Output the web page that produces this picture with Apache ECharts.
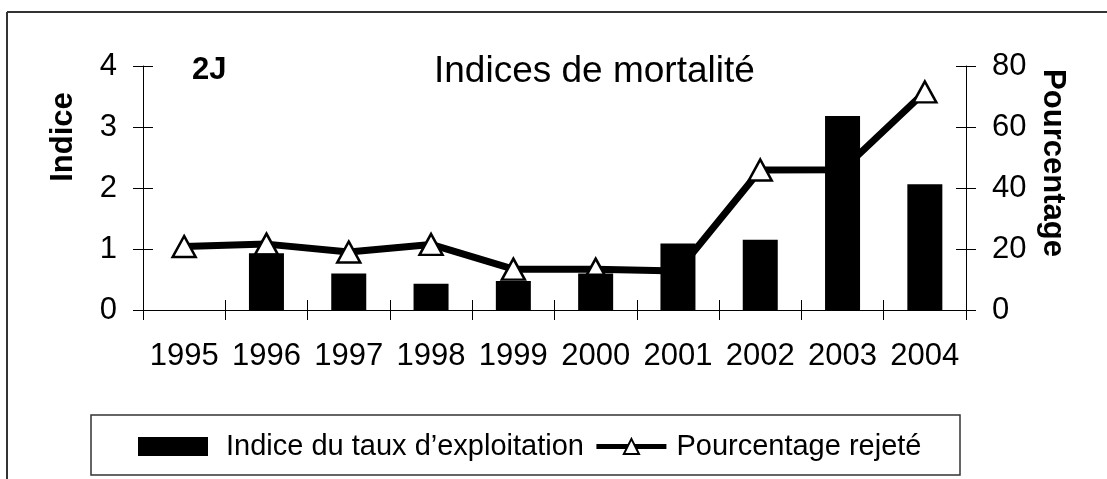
<!DOCTYPE html>
<html>
<head>
<meta charset="utf-8">
<script src="https://cdn.jsdelivr.net/npm/echarts@6/dist/echarts.min.js"></script>
<style>
  html, body { margin: 0; padding: 0; background: #fff; }
  #main { width: 1107px; height: 479px; }
</style>
</head>
<body>
<div id="main"></div>
<script>
// années
var annees = ['1995', '1996', '1997', '1998', '1999', '2000', '2001', '2002', '2003', '2004'];
// Indice du taux d'exploitation (axe gauche)
var indiceTaux = ['-', 0.93, 0.60, 0.43, 0.475, 0.60, 1.09, 1.15, 3.18, 2.06];
// Pourcentage rejeté (axe droit)
var pctRejete = [20.8, 21.6, 19.0, 21.5, 13.4, 13.4, 12.8, 45.9, 46.0, 71.5];

var police = 'Liberation Sans, Arial, sans-serif';
var myChart = echarts.init(document.getElementById('main'));

var tickOut = { show: true, inside: false, length: 10, lineStyle: { color: '#000', width: 1 } };
var tickIn = { show: true, inside: true, length: 10, lineStyle: { color: '#000', width: 1 } };

option = {
  animation: false,
  backgroundColor: '#fff',
  textStyle: { fontFamily: police },
  title: [
    {
      text: 'Indices de mortalité',
      left: 434, top: 53, padding: 0,
      textStyle: { fontFamily: police, fontSize: 37, fontWeight: 'normal', color: '#000' }
    },
    {
      text: '2J',
      left: 192, top: 55, padding: 0,
      textStyle: { fontFamily: police, fontSize: 31, fontWeight: 'bold', color: '#000' }
    }
  ],
  grid: { left: 143, right: 141, top: 66, bottom: 169, containLabel: false },
  legend: {
    left: 138, top: 432, padding: 0,
    itemGap: 10, itemWidth: 70, itemHeight: 19,
    textStyle: { fontFamily: police, fontSize: 29, color: '#000' },
    lineStyle: { width: 5 },
    data: [
      { name: 'Indice du taux d’exploitation', icon: 'rect', textStyle: { padding: [0, 0, 0, 13] } },
      { name: 'Pourcentage rejeté', textStyle: { padding: [0, 0, 0, 5] } }
    ]
  },
  xAxis: [
    {
      type: 'category', data: annees, boundaryGap: true,
      axisLine: { show: true, lineStyle: { color: '#000', width: 1 } },
      axisTick: Object.assign({ interval: 0 }, tickOut),
      axisLabel: { interval: 0, margin: 31, fontSize: 31, color: '#000', fontFamily: police },
      splitLine: { show: false }
    },
    {
      type: 'category', data: annees, boundaryGap: true, position: 'bottom',
      axisLine: { show: false },
      axisTick: Object.assign({ interval: 0 }, tickIn),
      axisLabel: { show: false },
      splitLine: { show: false }
    }
  ],
  yAxis: [
    {
      type: 'value', min: 0, max: 4, interval: 1, position: 'left',
      axisLine: { show: true, lineStyle: { color: '#000', width: 1 } },
      axisTick: tickOut,
      axisLabel: { margin: 26, fontSize: 31, color: '#000', fontFamily: police },
      splitLine: { show: false }
    },
    {
      type: 'value', min: 0, max: 80, interval: 20, position: 'right',
      axisLine: { show: true, lineStyle: { color: '#000', width: 1 } },
      axisTick: tickOut,
      axisLabel: { margin: 26, fontSize: 31, color: '#000', fontFamily: police },
      splitLine: { show: false }
    },
    {
      type: 'value', min: 0, max: 4, interval: 1, position: 'left',
      axisLine: { show: false }, axisTick: tickIn,
      axisLabel: { show: false }, splitLine: { show: false }
    },
    {
      type: 'value', min: 0, max: 80, interval: 20, position: 'right',
      axisLine: { show: false }, axisTick: tickIn,
      axisLabel: { show: false }, splitLine: { show: false }
    }
  ],
  series: [
    {
      name: 'Indice du taux d’exploitation',
      type: 'bar',
      xAxisIndex: 0, yAxisIndex: 0,
      barWidth: 35,
      z: 3,
      itemStyle: { color: '#000' },
      data: indiceTaux
    },
    {
      name: 'Pourcentage rejeté',
      type: 'line',
      xAxisIndex: 0, yAxisIndex: 1,
      z: 2,
      symbol: 'triangle', symbolSize: [23, 21],
      lineStyle: { color: '#000', width: 7 },
      itemStyle: { color: '#fff', borderColor: '#000', borderWidth: 2.5 },
      data: pctRejete
    }
  ],
  graphic: [
    // cadre (haut et gauche)
    { type: 'line', shape: { x1: 7, y1: 12, x2: 1107, y2: 12 }, style: { stroke: '#333', lineWidth: 2 } },
    { type: 'line', shape: { x1: 7, y1: 12, x2: 7, y2: 479 }, style: { stroke: '#333', lineWidth: 2 } },
    // boîte de la légende
    { type: 'rect', shape: { x: 91, y: 415, width: 869, height: 60 }, style: { fill: 'none', stroke: '#333', lineWidth: 1.5 }, z: -1 },
    // titres d'axes
    {
      type: 'text', x: 63, y: 137, rotation: Math.PI / 2,
      style: { text: 'Indice', font: 'bold 31px ' + police, fill: '#000', align: 'center', verticalAlign: 'middle' }
    },
    {
      type: 'text', x: 1053, y: 163, rotation: -Math.PI / 2,
      style: { text: 'Pourcentage', font: 'bold 31px ' + police, fill: '#000', align: 'center', verticalAlign: 'middle' }
    }
  ]
};
myChart.setOption(option);
</script>
</body>
</html>
